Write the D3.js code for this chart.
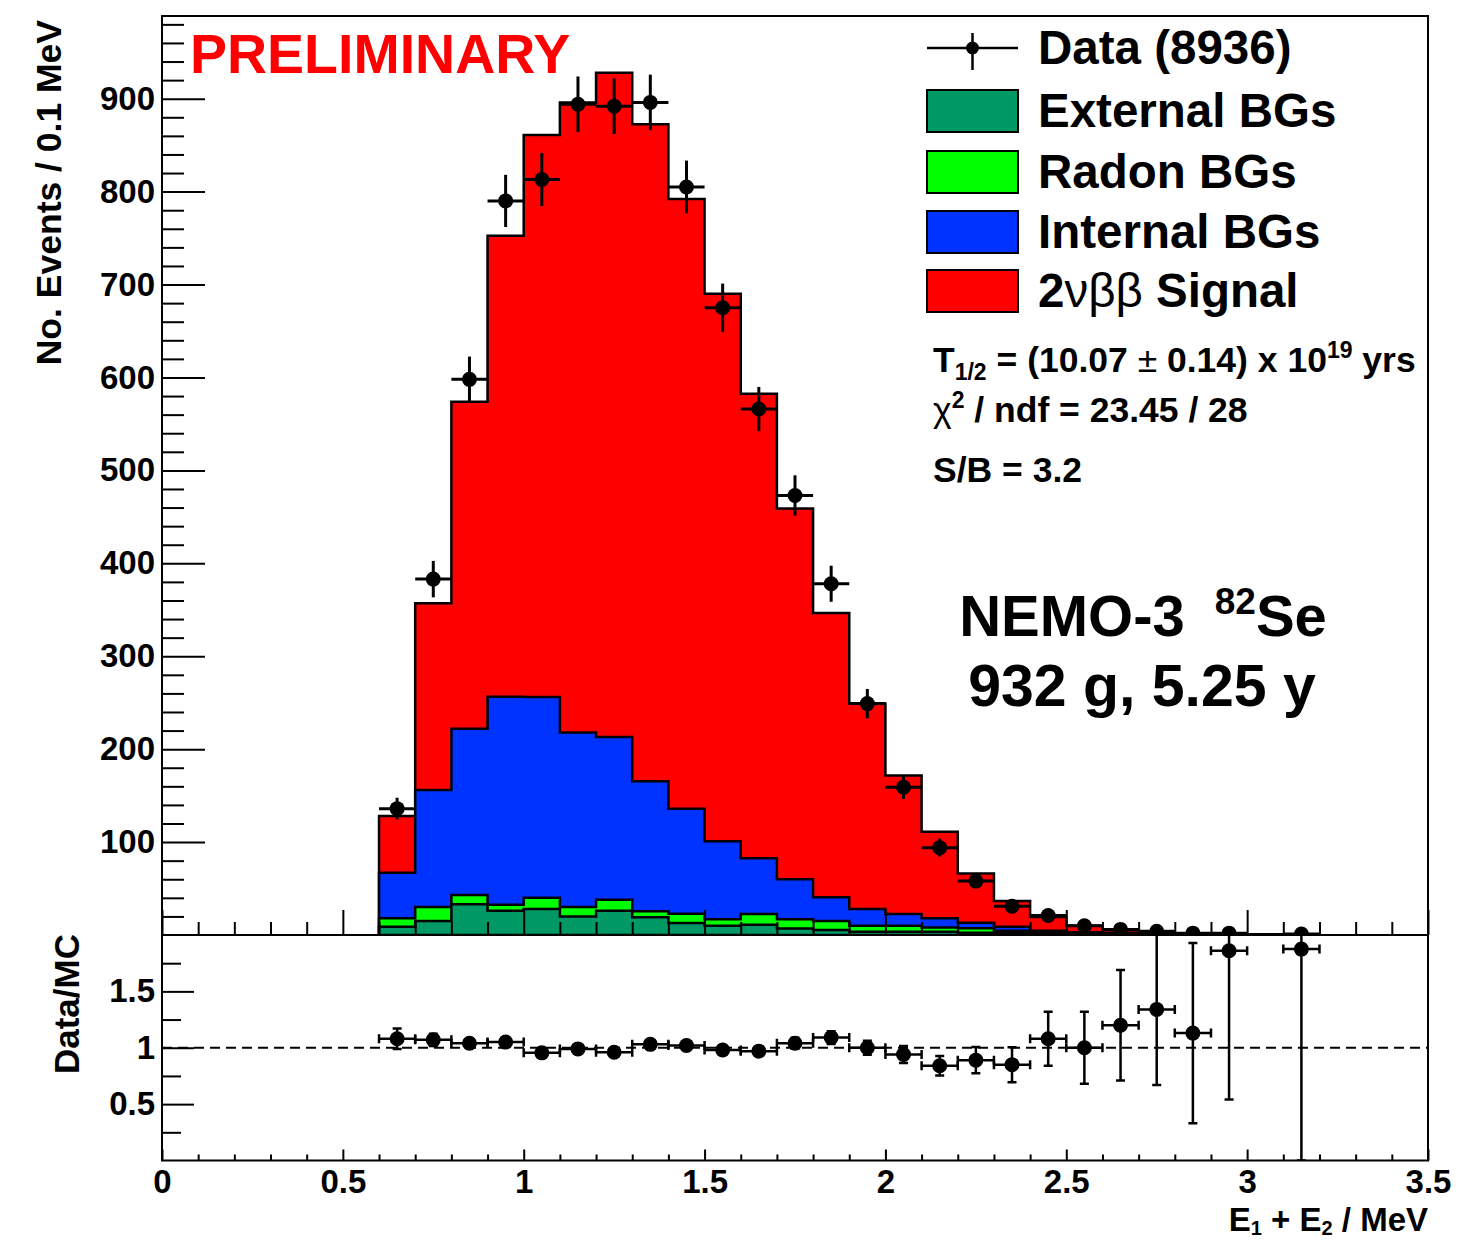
<!DOCTYPE html>
<html><head><meta charset="utf-8">
<script src="https://cdn.jsdelivr.net/npm/d3@7"></script>
<style>
body{margin:0;background:#fff}
text{font-family:"Liberation Sans",Arial,Helvetica,sans-serif;font-weight:bold;fill:#000}
</style>
</head><body>
<svg id="c" width="1459" height="1240"></svg>
<script>
// ---------- data ----------
const binCenters = [0.65,0.75,0.85,0.95,1.05,1.15,1.25,1.35,1.45,1.55,1.65,1.75,1.85,1.95,2.05,2.15,2.25,2.35,2.45,2.55,2.65,2.75,2.85,2.95,3.05,3.15];
const binHalfWidth = 0.05;
const externalBG = [9,15,33,26,28,20,26,19,13,10,11,7,5.5,3.5,3.5,3.5,2.5,1.8,1.2,0.8,0.5,0.3,0.2,0.1,0.1,0.05];
const radonBG    = [9,15,10,6.5,12,10,12,6.5,10,7,11.5,10,9.5,6.5,6.5,4.7,4.7,2.7,2,1.4,1,0.7,0.4,0.3,0.2,0.15];
const internalBG = [49,126,179,224,216,188,175,140,113,84,60,43,25.5,18,12.6,9.8,6.1,4.5,1.3,0.8,0.5,0.4,0.3,0.2,0.1,0.1];
const signal2nu  = [61,201,352,496,605,678,715,707,656,589,500,399,306,221,149,93,53,27.5,15,7,3,1.6,0.9,0.5,0.4,0.2];
const dataCounts = [136,383,598,790,813,894,892,896,805,675,566,473,378,249,159,94,58,31,21,10,6,4,2,2,0,1];
const dataErr    = [11.7,19.6,24.5,28.1,28.5,29.9,29.9,29.9,28.4,26,23.8,21.7,19.4,15.8,12.6,9.7,7.6,5.6,4.6,3.2,2.4,2,1.4,1.4,0,1];
const ratio      = [1.08,1.07,1.04,1.05,0.955,0.99,0.96,1.03,1.02,0.98,0.97,1.04,1.09,1.0,0.94,0.84,0.89,0.85,1.08,1.0,1.2,1.34,1.13,1.86,null,1.875];
const ratioErr   = [0.09,0.055,0.043,0.037,0.034,0.033,0.032,0.034,0.036,0.038,0.041,0.048,0.056,0.063,0.075,0.087,0.117,0.155,0.24,0.32,0.49,0.67,0.8,1.32,null,1.875];
const yMajorTicks = [100,200,300,400,500,600,700,800,900];
const ratioMajorTicks = [0.5,1,1.5];
const xMajorTicks = [0,0.5,1,1.5,2,2.5,3,3.5];
const xTickLabels = ["0","0.5","1","1.5","2","2.5","3","3.5"];
const seriesNames = ["External BGs","Radon BGs","Internal BGs","2\u03bd\u03b2\u03b2 Signal"];
const seriesColors = ["#009966","#00ff00","#0033ff","#ff0000"];

// ---------- layout ----------
const L=162, R=1428, T=16, MID=935, B=1160.5;
const svg = d3.select("#c");
const x  = d3.scaleLinear().domain([0,3.5]).range([L,R]);
const y  = d3.scaleLinear().domain([0,989]).range([MID,T]);
const yr = d3.scaleLinear().domain([0,2]).range([B,MID]);

const defs = svg.append("defs");
defs.append("clipPath").attr("id","clipTop").append("rect").attr("x",L).attr("y",T).attr("width",R-L).attr("height",MID-T);
defs.append("clipPath").attr("id","clipBot").append("rect").attr("x",L).attr("y",MID).attr("width",R-L).attr("height",B-MID);

// table
const rows = binCenters.map((c,i)=>({c, ext:externalBG[i], rad:radonBG[i], int:internalBG[i], sig:signal2nu[i]}));
const stack = d3.stack().keys(["ext","rad","int","sig"])(rows);

// ---------- stacked histogram (cumulative, drawn top-first like THStack) ----------
const gHist = svg.append("g").attr("clip-path","url(#clipTop)");
function stepPath(layer){
  let p = `M${x(rows[0].c-binHalfWidth)},${y(0)}`;
  layer.forEach((d,i)=>{
    const c = rows[i].c;
    p += `L${x(c-binHalfWidth)},${y(d[1])}L${x(c+binHalfWidth)},${y(d[1])}`;
  });
  p += `L${x(rows[rows.length-1].c+binHalfWidth)},${y(0)}Z`;
  return p;
}
for (let k=stack.length-1;k>=0;k--){
  gHist.append("path").attr("d",stepPath(stack[k]))
    .attr("fill",seriesColors[k]).attr("stroke","#000").attr("stroke-width",2.5)
    .attr("stroke-linejoin","miter");
}

// ---------- data points (top) ----------
const gData = svg.append("g").attr("clip-path","url(#clipTop)");
binCenters.forEach((c,i)=>{
  const n=dataCounts[i]; if(!n) return;
  const e=dataErr[i];
  gData.append("line").attr("x1",x(c-binHalfWidth)).attr("x2",x(c+binHalfWidth)).attr("y1",y(n)).attr("y2",y(n)).attr("stroke","#000").attr("stroke-width",3);
  gData.append("line").attr("x1",x(c)).attr("x2",x(c)).attr("y1",y(n-e)).attr("y2",y(n+e)).attr("stroke","#000").attr("stroke-width",3);
  gData.append("circle").attr("cx",x(c)).attr("cy",y(n)).attr("r",7.5).attr("fill","#000");
});

// ---------- axes top panel ----------
function styleAxis(g,fs){
  g.select(".domain").remove();
  g.selectAll("line").attr("stroke","#000").attr("stroke-width",2);
  g.selectAll("text").attr("font-size",fs).attr("font-family",'"Liberation Sans",Arial,sans-serif').attr("font-weight","bold").attr("fill","#000");
}
const yMinor = d3.range(20,989,20).filter(v=>v%100!==0);
svg.append("g").attr("transform",`translate(${L},0)`)
  .call(d3.axisLeft(y).tickValues(yMinor).tickSizeInner(-22).tickSizeOuter(0).tickFormat(""))
  .call(g=>styleAxis(g,33));
svg.append("g").attr("transform",`translate(${L},0)`)
  .call(d3.axisLeft(y).tickValues(yMajorTicks).tickSizeInner(-43).tickSizeOuter(0).tickPadding(7).tickFormat(d3.format("d")))
  .call(g=>styleAxis(g,33));

const xMinor = d3.range(1,35).map(v=>v/10).filter(v=>Math.abs(v*2-Math.round(v*2))>1e-6);
svg.append("g").attr("transform",`translate(0,${MID})`)
  .call(d3.axisBottom(x).tickValues(xMinor).tickSizeInner(-13).tickSizeOuter(0).tickFormat(""))
  .call(g=>styleAxis(g,33));
svg.append("g").attr("transform",`translate(0,${MID})`)
  .call(d3.axisBottom(x).tickValues(xMajorTicks).tickSizeInner(-25).tickSizeOuter(0).tickFormat(""))
  .call(g=>styleAxis(g,33));

// ---------- ratio panel ----------
svg.append("line").attr("x1",L).attr("x2",R).attr("y1",yr(1)).attr("y2",yr(1))
  .attr("stroke","#000").attr("stroke-width",1.8).attr("stroke-dasharray","10,6");

const gRat = svg.append("g").attr("clip-path","url(#clipBot)");
binCenters.forEach((c,i)=>{
  const r=ratio[i]; if(r==null) return;
  const e=ratioErr[i];
  const cap=4.5;
  const sw=2.5;
  gRat.append("line").attr("x1",x(c-binHalfWidth)).attr("x2",x(c+binHalfWidth)).attr("y1",yr(r)).attr("y2",yr(r)).attr("stroke","#000").attr("stroke-width",sw);
  [c-binHalfWidth,c+binHalfWidth].forEach(xx=>gRat.append("line").attr("x1",x(xx)).attr("x2",x(xx)).attr("y1",yr(r)-cap).attr("y2",yr(r)+cap).attr("stroke","#000").attr("stroke-width",sw));
  gRat.append("line").attr("x1",x(c)).attr("x2",x(c)).attr("y1",yr(r-e)).attr("y2",yr(r+e)).attr("stroke","#000").attr("stroke-width",sw);
  [r-e,r+e].forEach(v=>gRat.append("line").attr("x1",x(c)-cap).attr("x2",x(c)+cap).attr("y1",yr(v)).attr("y2",yr(v)).attr("stroke","#000").attr("stroke-width",sw));
  gRat.append("circle").attr("cx",x(c)).attr("cy",yr(r)).attr("r",7.5).attr("fill","#000");
});

svg.append("g").attr("transform",`translate(${L},0)`)
  .call(d3.axisLeft(yr).tickValues([0.25,0.75,1.25,1.75]).tickSizeInner(-19).tickSizeOuter(0).tickFormat(""))
  .call(g=>styleAxis(g,33));
svg.append("g").attr("transform",`translate(${L},0)`)
  .call(d3.axisLeft(yr).tickValues(ratioMajorTicks).tickSizeInner(-32).tickSizeOuter(0).tickPadding(7).tickFormat(d=>String(d)))
  .call(g=>styleAxis(g,33));
svg.append("g").attr("transform",`translate(0,${B})`)
  .call(d3.axisBottom(x).tickValues(xMinor).tickSizeInner(-6).tickSizeOuter(0).tickFormat(""))
  .call(g=>styleAxis(g,33));
svg.append("g").attr("transform",`translate(0,${B})`)
  .call(d3.axisBottom(x).tickValues(xMajorTicks).tickSizeInner(-11).tickSizeOuter(0).tickPadding(9).tickFormat((d,i)=>xTickLabels[i]))
  .call(g=>styleAxis(g,33));

// frames
svg.append("rect").attr("x",L).attr("y",T).attr("width",R-L).attr("height",MID-T).attr("fill","none").attr("stroke","#000").attr("stroke-width",2);
svg.append("rect").attr("x",L).attr("y",MID).attr("width",R-L).attr("height",B-MID).attr("fill","none").attr("stroke","#000").attr("stroke-width",2);

// ---------- axis titles ----------
svg.append("text").attr("transform","translate(61,20) rotate(-90)").attr("text-anchor","end").attr("font-size",35.5).text("No. Events / 0.1 MeV");
svg.append("text").attr("transform","translate(79,934) rotate(-90)").attr("text-anchor","end").attr("font-size",35).text("Data/MC");
const xt = svg.append("text").attr("x",R).attr("y",1231).attr("text-anchor","end").attr("font-size",33);
xt.append("tspan").text("E");
xt.append("tspan").attr("font-size",20).attr("dy",4).text("1");
xt.append("tspan").attr("dy",-4).text(" + E");
xt.append("tspan").attr("font-size",20).attr("dy",4).text("2");
xt.append("tspan").attr("dy",-4).text(" / MeV");

// ---------- PRELIMINARY ----------
svg.append("text").attr("x",190).attr("y",73).attr("font-size",55.5).style("fill","#ff0000").text("PRELIMINARY");

// ---------- legend ----------
const lgX=927, lgW=91;
svg.append("line").attr("x1",lgX).attr("x2",lgX+lgW).attr("y1",48).attr("y2",48).attr("stroke","#000").attr("stroke-width",2.5);
svg.append("line").attr("x1",lgX+lgW/2).attr("x2",lgX+lgW/2).attr("y1",33).attr("y2",70).attr("stroke","#000").attr("stroke-width",2.5);
svg.append("circle").attr("cx",lgX+lgW/2).attr("cy",48).attr("r",6.5).attr("fill","#000");
svg.append("text").attr("x",1038).attr("y",64).attr("font-size",47.5).text("Data (8936)");
const legY=[111,172,232,291];
seriesNames.forEach((name,k)=>{
  svg.append("rect").attr("x",lgX).attr("y",legY[k]-21).attr("width",lgW).attr("height",42)
    .attr("fill",seriesColors[k]).attr("stroke","#000").attr("stroke-width",2);
  const t = svg.append("text").attr("x",1038).attr("y",legY[k]+16).attr("font-size",47.5);
  if (k===3){
    t.append("tspan").text("2");
    t.append("tspan").attr("font-weight","normal").text("\u03bd\u03b2\u03b2");
    t.append("tspan").text(" Signal");
  } else t.text(name);
});

// ---------- fit info ----------
const t1 = svg.append("text").attr("x",933).attr("y",372).attr("font-size",35.5);
t1.append("tspan").text("T");
t1.append("tspan").attr("font-size",23).attr("dy",8).text("1/2");
t1.append("tspan").attr("dy",-8).text(" = (10.07 ");
t1.append("tspan").attr("font-weight","normal").text("\u00b1");
t1.append("tspan").text(" 0.14) x 10");
t1.append("tspan").attr("font-size",23).attr("dy",-14).text("19");
t1.append("tspan").attr("dy",14).text(" yrs");
const t2 = svg.append("text").attr("x",933).attr("y",422).attr("font-size",35.5);
t2.append("tspan").attr("font-weight","normal").text("\u03c7");
t2.append("tspan").attr("font-size",23).attr("dy",-14).text("2");
t2.append("tspan").attr("dy",14).text(" / ndf = 23.45 / 28");
svg.append("text").attr("x",933).attr("y",482).attr("font-size",35.5).text("S/B = 3.2");

// ---------- experiment label ----------
const n1 = svg.append("text").attr("x",1143).attr("y",636).attr("text-anchor","middle").attr("font-size",58);
n1.append("tspan").text("NEMO-3");
n1.append("tspan").attr("font-size",37).attr("dx",30).attr("dy",-22).text("82");
n1.append("tspan").attr("dy",22).text("Se");
svg.append("text").attr("x",1142).attr("y",706).attr("text-anchor","middle").attr("font-size",59).text("932 g, 5.25 y");
</script>
</body></html>
